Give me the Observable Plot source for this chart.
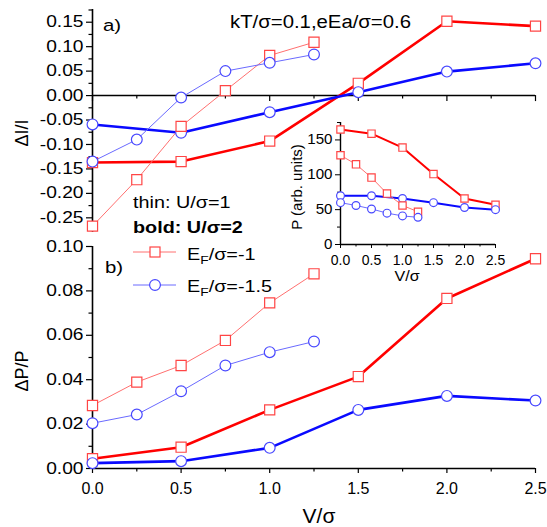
<!DOCTYPE html>
<html><head><meta charset="utf-8">
<script src="https://cdn.jsdelivr.net/npm/d3@7"></script>
<script src="https://cdn.jsdelivr.net/npm/@observablehq/plot@0.6"></script>
<style>
body{margin:0;background:#fff;}
#chart{position:relative;width:547px;height:527px;overflow:hidden;}
#chart svg{position:absolute;left:0;top:0;}
</style></head><body><div id="chart"></div>
<script>
// ---------- data ----------
const vThin = [0, 0.25, 0.5, 0.75, 1.0, 1.25];
const vBold = [0, 0.5, 1.0, 1.5, 2.0, 2.5];
// panel a: ΔI/I
const dI_thin_ef1  = [-0.267, -0.172, -0.063, 0.010, 0.082, 0.109];
const dI_thin_ef15 = [-0.135, -0.090, -0.004, 0.050, 0.067, 0.084];
const dI_bold_ef1  = [-0.137, -0.135, -0.093, 0.025, 0.152, 0.142];
const dI_bold_ef15 = [-0.059, -0.076, -0.034, 0.007, 0.049, 0.066];
// panel b: ΔP/P
const dP_thin_ef1  = [0.0284, 0.0389, 0.0464, 0.0577, 0.0746, 0.0877];
const dP_thin_ef15 = [0.0204, 0.0243, 0.0348, 0.0464, 0.0524, 0.0572];
const dP_bold_ef1  = [0.0044, 0.0096, 0.0264, 0.0414, 0.0766, 0.0945];
const dP_bold_ef15 = [0.0024, 0.0033, 0.0093, 0.0264, 0.0327, 0.0306];
// inset: P (arb. units)
const P_thin_ef1  = [128, 115, 96, 73, 56, 47];
const P_thin_ef15 = [60, 56, 51, 45, 41, 39];
const P_bold_ef1  = [165, 159, 139, 101, 66, 57];
const P_bold_ef15 = [70, 70, 66, 60, 53, 50];
// ticks
const xMajor = [0, 0.5, 1.0, 1.5, 2.0, 2.5];
const xMinor = [0.25, 0.75, 1.25, 1.75, 2.25];
const yAMajor = [-0.25, -0.20, -0.15, -0.10, -0.05, 0, 0.05, 0.10, 0.15];
const yAMinor = [-0.275, -0.225, -0.175, -0.125, -0.075, -0.025, 0.025, 0.075, 0.125, 0.175];
const yBMajor = [0, 0.02, 0.04, 0.06, 0.08, 0.10];
const yBMinor = [0.01, 0.03, 0.05, 0.07, 0.09];
const yIMajor = [0, 50, 100, 150];
const yIMinor = [25, 75, 125, 175];
// text
const labelA = "a)", labelB = "b)";
const paramText = "kT/σ=0.1,eEa/σ=0.6";
const legThin = "thin: U/σ=1", legBold = "bold: U/σ=2";
const legSeries = [["E", "F", "/σ=-1"], ["E", "F", "/σ=-1.5"]];

// ---------- style ----------
const FONT = '"Liberation Sans", Arial, Helvetica, sans-serif';
const K = 1.2; // horizontal stretch of the reference's glyphs
const RED = "#ff0000", RED_THIN = "#ff7070", RED_MK = "#ff4545";
const BLUE = "#0a0aff", BLUE_THIN = "#6a6aff", BLUE_MK = "#4848ff";

const chart = document.getElementById("chart");
const rows = (xs, ys) => xs.map((v, i) => ({v, y: ys[i]}));

function stretch(svg, k) {
  svg.querySelectorAll('g[aria-label="y-axis tick label"] text').forEach(t => {
    const tr = t.getAttribute("transform");
    if (tr) t.setAttribute("transform", tr + ` scale(${k},1)`);
  });
}
function place(opts, ky) {
  const svg = Plot.plot(Object.assign({
    width: 547, height: 527, marginLeft: 92, marginRight: 12,
    style: {background: "transparent", fontFamily: FONT, overflow: "visible", color: "#000"}
  }, opts));
  stretch(svg, ky);
  chart.append(svg);
  return svg;
}
function seriesMarks(list, r) {
  const lines = list.map(s => Plot.line(s.data, {x: "v", y: "y", stroke: s.line, strokeWidth: s.w}));
  const dots = list.map(s => Plot.dot(s.data, {x: "v", y: "y", symbol: s.sym,
    r: s.sym === "square" ? r * 1.06 : r, stroke: s.mk, fill: "white", strokeWidth: 1.2}));
  return [...lines, ...dots];
}

// ---------- panel a ----------
place({
  marginTop: 9, marginBottom: 295,
  x: {domain: [0, 2.5], axis: null},
  y: {domain: [-0.28, 0.176], label: null},
  marks: [
    Plot.ruleX([0], {stroke: "#000", strokeWidth: 1.6}),
    Plot.ruleY([0], {stroke: "#000", strokeWidth: 1.6}),
    Plot.ruleX(xMajor, {y1: 0, y2: 0, insetBottom: -6, stroke: "#000", strokeWidth: 1.2}),
    Plot.ruleX(xMinor, {y1: 0, y2: 0, insetBottom: -3.5, stroke: "#000", strokeWidth: 1.2}),
    Plot.axisY({ticks: yAMajor, tickSize: 6, tickPadding: 3, tickFormat: d => d.toFixed(2), fontSize: 16, label: null, strokeWidth: 1.2}),
    Plot.axisY({ticks: yAMinor, tickSize: 3.5, tickFormat: () => "", label: null, strokeWidth: 1.2}),
    ...seriesMarks([
      {data: rows(vBold, dI_bold_ef1), line: RED, w: 2.6, mk: RED_MK, sym: "square"},
      {data: rows(vBold, dI_bold_ef15), line: BLUE, w: 2.6, mk: BLUE_MK, sym: "circle"},
      {data: rows(vThin, dI_thin_ef1), line: RED_THIN, w: 1, mk: RED_MK, sym: "square"},
      {data: rows(vThin, dI_thin_ef15), line: BLUE_THIN, w: 1, mk: BLUE_MK, sym: "circle"}
    ], 5.4)
  ]
}, K);

// ---------- panel b ----------
place({
  marginTop: 246, marginBottom: 59,
  x: {domain: [0, 2.5], label: null},
  y: {domain: [0, 0.1], label: null},
  marks: [
    Plot.ruleX([0], {stroke: "#000", strokeWidth: 1.6}),
    Plot.ruleY([0], {stroke: "#000", strokeWidth: 1.6}),
    Plot.axisX({ticks: xMajor, tickSize: 5, tickPadding: 9, tickFormat: d => d.toFixed(1), fontSize: 16, label: null, strokeWidth: 1.2}),
    Plot.axisX({ticks: xMinor, tickSize: 3.5, tickFormat: () => "", label: null, strokeWidth: 1.2}),
    Plot.axisY({ticks: yBMajor, tickSize: 6, tickPadding: 3, tickFormat: d => d.toFixed(2), fontSize: 16, label: null, strokeWidth: 1.2}),
    Plot.axisY({ticks: yBMinor, tickSize: 3.5, tickFormat: () => "", label: null, strokeWidth: 1.2}),
    ...seriesMarks([
      {data: rows(vBold, dP_bold_ef1), line: RED, w: 2.6, mk: RED_MK, sym: "square"},
      {data: rows(vBold, dP_bold_ef15), line: BLUE, w: 2.6, mk: BLUE_MK, sym: "circle"},
      {data: rows(vThin, dP_thin_ef1), line: RED_THIN, w: 1, mk: RED_MK, sym: "square"},
      {data: rows(vThin, dP_thin_ef15), line: BLUE_THIN, w: 1, mk: BLUE_MK, sym: "circle"}
    ], 5.4)
  ]
}, K);

// ---------- inset ----------
place({
  marginLeft: 340, marginRight: 52, marginTop: 122, marginBottom: 283,
  x: {domain: [0, 2.5], label: null},
  y: {domain: [0, 175], label: null},
  marks: [
    Plot.ruleX([0], {stroke: "#000", strokeWidth: 1.4}),
    Plot.ruleY([0], {stroke: "#000", strokeWidth: 1.4}),
    Plot.axisX({ticks: xMajor, tickSize: 4, tickPadding: 7, tickFormat: d => d.toFixed(1), fontSize: 14, label: null}),
    Plot.axisX({ticks: xMinor, tickSize: 2.5, tickFormat: () => "", label: null}),
    Plot.axisY({ticks: yIMajor, tickSize: 5, tickPadding: 3, tickFormat: d => String(d), fontSize: 14, label: null}),
    Plot.axisY({ticks: yIMinor, tickSize: 3, tickFormat: () => "", label: null}),
    ...seriesMarks([
      {data: rows(vBold, P_bold_ef1), line: RED, w: 2, mk: RED_MK, sym: "square"},
      {data: rows(vBold, P_bold_ef15), line: BLUE, w: 2, mk: BLUE_MK, sym: "circle"},
      {data: rows(vThin, P_thin_ef1), line: RED_THIN, w: 1, mk: RED_MK, sym: "square"},
      {data: rows(vThin, P_thin_ef15), line: BLUE_THIN, w: 1, mk: BLUE_MK, sym: "circle"}
    ], 3.9)
  ]
}, 1.08);

// ---------- annotations, titles and legend ----------
const ov = d3.create("svg").attr("width", 547).attr("height", 527)
  .attr("font-family", FONT).style("overflow", "visible");
function txt(x, y, s, size, opt = {}) {
  const t = ov.append("text").attr("font-size", size).attr("fill", "#000")
    .attr("text-anchor", opt.anchor || "start")
    .attr("transform", opt.rot ? `translate(${x},${y}) rotate(-90)` : `translate(${x},${y}) scale(${opt.k || K},1)`)
    .text(s);
  if (opt.bold) t.attr("font-weight", "bold");
  return t;
}
txt(103, 31, labelA, 17);
txt(105, 273, labelB, 17);
txt(230, 28, paramText, 18, {k: 1.13});
txt(133, 208, legThin, 16.5);
txt(133, 233, legBold, 16.5, {bold: true});
// legend rows
const legY = [252, 285], legBase = [260, 292];
const legStyle = [{line: RED_THIN, mk: RED_MK, sym: "square"}, {line: BLUE_THIN, mk: BLUE_MK, sym: "circle"}];
legSeries.forEach((parts, i) => {
  const st = legStyle[i];
  ov.append("line").attr("x1", 133).attr("x2", 176).attr("y1", legY[i]).attr("y2", legY[i])
    .attr("stroke", st.line).attr("stroke-width", 1);
  if (st.sym === "square") {
    ov.append("rect").attr("x", 150).attr("y", legY[i] - 5).attr("width", 10).attr("height", 10)
      .attr("fill", "white").attr("stroke", st.mk).attr("stroke-width", 1.2);
  } else {
    ov.append("circle").attr("cx", 155).attr("cy", legY[i]).attr("r", 5.4)
      .attr("fill", "white").attr("stroke", st.mk).attr("stroke-width", 1.2);
  }
  const t = txt(187, legBase[i], "", 16.5);
  t.append("tspan").text(parts[0]);
  t.append("tspan").attr("font-size", 11.5).attr("dy", 4).text(parts[1]);
  t.append("tspan").attr("dy", -4).text(parts[2]);
});
// axis titles
txt(28, 133, "ΔI/I", 18, {rot: true, anchor: "middle"});
txt(28, 371, "ΔP/P", 18, {rot: true, anchor: "middle"});
txt(319, 523, "V/σ", 20, {anchor: "middle", k: 1.05});
txt(302, 187, "P (arb. units)", 15, {rot: true, anchor: "middle"});
txt(407, 281, "V/σ", 14, {anchor: "middle", k: 1.15});
chart.append(ov.node());
</script>
</body></html>
